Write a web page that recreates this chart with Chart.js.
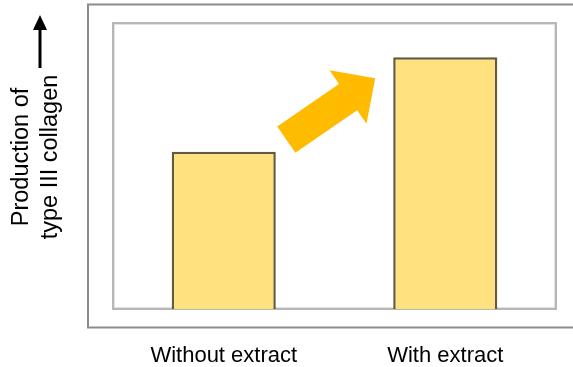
<!DOCTYPE html>
<html>
<head>
<meta charset="utf-8">
<script src="https://cdn.jsdelivr.net/npm/chart.js@4/dist/chart.umd.min.js"></script>
<style>
  html, body { margin: 0; padding: 0; background: #ffffff; }
  #wrap { width: 573px; height: 367px; }
</style>
</head>
<body>
<div id="wrap"><canvas id="c" width="573" height="367"></canvas></div>
<script>
// Categories and relative production values (arbitrary units, 0-100 scale)
const categories = ['Without extract', 'With extract'];
const collagenValues = [55, 88];
const yAxisLabel = ['Production of', 'type III collagen'];

const FONT = '"Liberation Sans", Arial, sans-serif';

// Frames behind the plot: an outer panel and the plot box
const framePlugin = {
  id: 'frames',
  beforeDraw(chart) {
    const { ctx, chartArea: a } = chart;
    ctx.save();
    // outer panel (runs off the right edge)
    ctx.strokeStyle = '#8c8c8c';
    ctx.lineWidth = 2;
    ctx.beginPath();
    ctx.moveTo(chart.width + 5, 4.5);
    ctx.lineTo(88, 4.5);
    ctx.lineTo(88, 327.5);
    ctx.lineTo(chart.width + 5, 327.5);
    ctx.stroke();
    // plot box
    ctx.strokeStyle = '#e2e2e2';
    ctx.lineWidth = 1;
    ctx.strokeRect(a.left + 1.5, a.top + 1.5, a.right - a.left - 3, a.bottom - a.top - 3);
    ctx.strokeStyle = '#a6a6a6';
    ctx.lineWidth = 1.6;
    ctx.strokeRect(a.left, a.top, a.right - a.left, a.bottom - a.top);
    ctx.restore();
  }
};

// Orange arrow pointing from the lower bar to the taller one
const arrowPlugin = {
  id: 'riseArrow',
  afterDatasetsDraw(chart) {
    const { ctx } = chart;
    const bars = chart.getDatasetMeta(0).data;
    const b1 = bars[0], b2 = bars[1];
    const x0 = b1.x + b1.width / 2 + 10.5, y0 = b1.y - 12;
    const x1 = b2.x - b2.width / 2 - 18, y1 = b2.y + 21;
    const len = Math.hypot(x1 - x0, y1 - y0);
    const ang = Math.atan2(y1 - y0, x1 - x0);
    const shaftW = 32, headW = 65, headL = 33;
    ctx.save();
    ctx.translate(x0, y0);
    ctx.rotate(ang);
    ctx.fillStyle = '#ffbb00';
    ctx.beginPath();
    ctx.moveTo(0, -shaftW / 2);
    ctx.lineTo(len - headL, -shaftW / 2);
    ctx.lineTo(len - headL, -headW / 2);
    ctx.lineTo(len, 0);
    ctx.lineTo(len - headL, headW / 2);
    ctx.lineTo(len - headL, shaftW / 2);
    ctx.lineTo(0, shaftW / 2);
    ctx.closePath();
    ctx.fill();
    ctx.restore();
  }
};

// Rotated y-axis caption with an upward arrow
const yCaptionPlugin = {
  id: 'yCaption',
  afterDraw(chart) {
    const { ctx } = chart;
    const cy = 157;
    ctx.save();
    ctx.fillStyle = '#000';
    ctx.font = '23.5px ' + FONT;
    ctx.textAlign = 'center';
    ctx.textBaseline = 'alphabetic';
    ctx.translate(0, cy);
    ctx.rotate(-Math.PI / 2);
    ctx.fillText(yAxisLabel[0], 0, 28);
    ctx.fillText(yAxisLabel[1], 0, 57);
    ctx.restore();

    // upward arrow
    ctx.save();
    ctx.fillStyle = '#000';
    ctx.strokeStyle = '#000';
    ctx.lineWidth = 3;
    const ax = 40;
    ctx.beginPath();
    ctx.moveTo(ax, 68);
    ctx.lineTo(ax, 26);
    ctx.stroke();
    ctx.beginPath();
    ctx.moveTo(ax, 15);
    ctx.lineTo(ax - 7, 30);
    ctx.lineTo(ax + 7, 30);
    ctx.closePath();
    ctx.fill();
    ctx.restore();
  }
};

new Chart(document.getElementById('c'), {
  type: 'bar',
  data: {
    labels: categories,
    datasets: [{
      data: collagenValues,
      backgroundColor: '#fee27f',
      borderColor: '#645b3a',
      borderWidth: { left: 2.5, right: 2.5, top: 2.5, bottom: 0 },
      borderSkipped: false,
      barPercentage: 1,
      categoryPercentage: 0.47
    }]
  },
  options: {
    responsive: false,
    animation: false,
    devicePixelRatio: 1,
    layout: { padding: { left: 113, right: 17, top: 23, bottom: 0 } },
    plugins: {
      legend: { display: false },
      tooltip: { enabled: false }
    },
    scales: {
      x: {
        grid: { display: false },
        border: { display: false },
        ticks: {
          color: '#000',
          font: { family: FONT, size: 22 },
          padding: 26,
          maxRotation: 0
        },
        afterFit(scale) { scale.height = 58; }
      },
      y: {
        display: false,
        min: 0,
        max: 100
      }
    }
  },
  plugins: [framePlugin, arrowPlugin, yCaptionPlugin]
});
</script>
</body>
</html>
